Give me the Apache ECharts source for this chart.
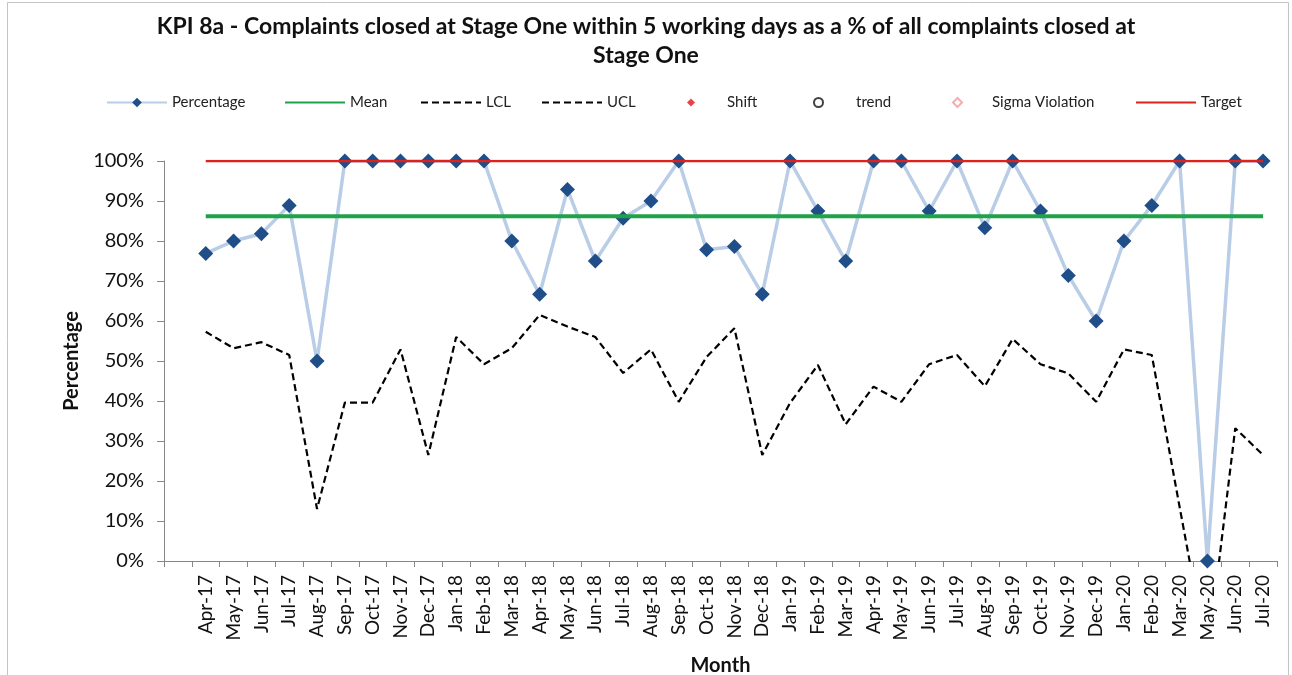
<!DOCTYPE html>
<html>
<head>
<meta charset="utf-8">
<script src="https://cdn.jsdelivr.net/npm/echarts@6/dist/echarts.min.js"></script>
<style>
  html, body { margin: 0; padding: 0; background: #fff; }
  #main { width: 1292px; height: 675px; }
</style>
</head>
<body>
<div id="main"></div>
<script>
    var chart = echarts.init(document.getElementById('main'));

    // first slot is an empty category, as in the source sheet
    var months = ['', 'Apr-17', 'May-17', 'Jun-17', 'Jul-17', 'Aug-17', 'Sep-17', 'Oct-17', 'Nov-17', 'Dec-17',
        'Jan-18', 'Feb-18', 'Mar-18', 'Apr-18', 'May-18', 'Jun-18', 'Jul-18', 'Aug-18', 'Sep-18', 'Oct-18', 'Nov-18', 'Dec-18',
        'Jan-19', 'Feb-19', 'Mar-19', 'Apr-19', 'May-19', 'Jun-19', 'Jul-19', 'Aug-19', 'Sep-19', 'Oct-19', 'Nov-19', 'Dec-19',
        'Jan-20', 'Feb-20', 'Mar-20', 'May-20', 'Jun-20', 'Jul-20'];

    var percentage = [null, 76.9, 80, 81.8, 88.9, 50, 100, 100, 100, 100,
        100, 100, 80, 66.7, 92.9, 75, 85.7, 90, 100, 77.8, 78.6, 66.7,
        100, 87.5, 75, 100, 100, 87.5, 100, 83.3, 100, 87.5, 71.4, 60,
        80, 88.9, 100, 0, 100, 100];

    var mean = [null, 86.2, 86.2, 86.2, 86.2, 86.2, 86.2, 86.2, 86.2, 86.2,
        86.2, 86.2, 86.2, 86.2, 86.2, 86.2, 86.2, 86.2, 86.2, 86.2, 86.2, 86.2,
        86.2, 86.2, 86.2, 86.2, 86.2, 86.2, 86.2, 86.2, 86.2, 86.2, 86.2, 86.2,
        86.2, 86.2, 86.2, 86.2, 86.2, 86.2];

    var lcl = [null, 57.3, 53.2, 54.7, 51.5, 13, 39.6, 39.6, 52.9, 26.5,
        56, 49.2, 53.2, 61.5, 58.6, 56, 47, 52.9, 39.8, 51, 58.2, 26.5,
        39.5, 49, 34.2, 43.6, 39.8, 49.2, 51.5, 43.7, 55.5, 49.2, 46.9, 39.8,
        52.9, 51.5, 13.5, -24, 33.2, 26.5];

    // UCL sits above 100% all the way, so nothing of it is visible
    var ucl = [];

    var target = [null, 100, 100, 100, 100, 100, 100, 100, 100, 100,
        100, 100, 100, 100, 100, 100, 100, 100, 100, 100, 100, 100,
        100, 100, 100, 100, 100, 100, 100, 100, 100, 100, 100, 100,
        100, 100, 100, 100, 100, 100];

    var font = 'Lato, "Open Sans", sans-serif';

    // one legend per entry so each sits where Excel put it
    var legendItems = [
        { name: 'Percentage', left: 101, w: 60, h: 12, pad: 0 },
        { name: 'Mean', left: 279, w: 60, h: 12, pad: 0, hideSymbol: true },
        { name: 'LCL', left: 415, w: 60, h: 12, pad: 0, hideSymbol: true },
        { name: 'UCL', left: 536, w: 60, h: 12, pad: 0, hideSymbol: true },
        { name: 'Shift', left: 682, w: 8, h: 8, pad: 27, icon: 'diamond' },
        { name: 'trend', left: 808, w: 9, h: 9, pad: 28, icon: 'emptyCircle' },
        { name: 'Sigma Violation', left: 947, w: 9, h: 9, pad: 25, icon: 'emptyDiamond' },
        { name: 'Target', left: 1130, w: 60, h: 12, pad: 0, hideSymbol: true }
    ];
    var legends = legendItems.map(function (it) {
        var d = { name: it.name };
        if (it.icon) d.icon = it.icon;
        var lg = {
            left: it.left,
            top: 90,
            itemWidth: it.w,
            itemHeight: it.h,
            itemGap: 0,
            selectedMode: false,
            data: [d],
            textStyle: { fontFamily: font, fontSize: 15, color: '#222', padding: [0, 0, 0, it.pad] }
        };
        if (it.hideSymbol) lg.itemStyle = { opacity: 0 };
        if (it.icon === 'emptyCircle' || it.icon === 'emptyDiamond') lg.itemStyle = { borderWidth: 1.2 };
        return lg;
    });

    var option = {
        backgroundColor: '#fff',
        animation: false,
        title: {
            text: 'KPI 8a - Complaints closed at Stage One within 5 working days as a % of all complaints closed at\nStage One',
            left: 'center',
            top: 7,
            textStyle: {
                fontFamily: font,
                fontSize: 23,
                fontWeight: 'bold',
                color: '#111',
                lineHeight: 29
            }
        },
        legend: legends,
        grid: { left: 164, right: 15, top: 161, bottom: 114, outerBoundsMode: 'none', containLabel: false },
        xAxis: {
            type: 'category',
            data: months,
            boundaryGap: true,
            name: 'Month',
            nameLocation: 'middle',
            nameGap: 95,
            nameTextStyle: { fontFamily: font, fontSize: 20, fontWeight: 'bold', color: '#111' },
            axisLine: { lineStyle: { color: '#868686', width: 1 } },
            axisTick: { show: true, interval: 0, length: 6, lineStyle: { color: '#868686' } },
            axisLabel: {
                interval: 0,
                rotate: 90,
                margin: 14,
                fontFamily: font,
                fontSize: 19,
                color: '#111'
            },
            splitLine: { show: false }
        },
        yAxis: {
            type: 'value',
            min: 0,
            max: 100,
            interval: 10,
            name: 'Percentage',
            nameLocation: 'middle',
            nameGap: 82,
            nameRotate: 90,
            nameTextStyle: { fontFamily: font, fontSize: 20, fontWeight: 'bold', color: '#111' },
            axisLine: { show: true, lineStyle: { color: '#868686', width: 1 } },
            axisTick: { show: true, inside: false, length: 7, lineStyle: { color: '#868686' } },
            axisLabel: {
                formatter: '{value}%',
                margin: 20,
                fontFamily: font,
                fontSize: 20,
                color: '#111'
            },
            splitLine: { show: false }
        },
        series: [
            {
                name: 'Percentage',
                type: 'line',
                data: percentage,
                z: 2,
                symbol: 'diamond',
                symbolSize: 15,
                lineStyle: { color: '#B9CDE6', width: 3.5 },
                itemStyle: { color: '#1F4E89' }
            },
            {
                name: 'Mean',
                type: 'line',
                data: mean,
                z: 3,
                symbol: 'none',
                lineStyle: { color: '#1FA34A', width: 4 },
                itemStyle: { color: '#1FA34A' }
            },
            {
                name: 'LCL',
                type: 'line',
                data: lcl,
                z: 3,
                symbol: 'none',
                clip: true,
                lineStyle: { color: '#000', width: 2.2, type: [7, 4] },
                itemStyle: { color: '#000' }
            },
            {
                name: 'UCL',
                type: 'line',
                data: ucl,
                symbol: 'none',
                lineStyle: { color: '#000', width: 2.2, type: [7, 4] },
                itemStyle: { color: '#000' }
            },
            {
                name: 'Shift',
                type: 'scatter',
                data: [],
                symbol: 'diamond',
                itemStyle: { color: '#E3141B' }
            },
            {
                name: 'trend',
                type: 'scatter',
                data: [],
                symbol: 'emptyCircle',
                itemStyle: { color: '#111' }
            },
            {
                name: 'Sigma Violation',
                type: 'scatter',
                data: [],
                symbol: 'emptyDiamond',
                itemStyle: { color: '#F09A9A' }
            },
            {
                name: 'Target',
                type: 'line',
                data: target,
                z: 4,
                symbol: 'none',
                lineStyle: { color: '#E0201B', width: 2.5 },
                itemStyle: { color: '#E0201B' }
            }
        ],
        graphic: [{
            type: 'rect',
            silent: true,
            shape: { x: 7.5, y: 2.5, width: 1281, height: 700 },
            style: { fill: 'none', stroke: '#c4c4c4', lineWidth: 1 }
        }]
    };

    chart.setOption(option);
</script>
</body>
</html>
